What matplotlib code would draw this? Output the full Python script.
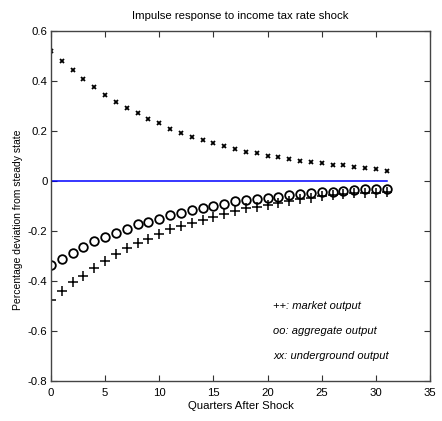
import matplotlib
matplotlib.use("Agg")
import matplotlib.pyplot as plt
import numpy as np

plt.rcParams['font.family'] = ['Liberation Sans', 'DejaVu Sans']

quarters = list(range(32))
underground = [0.521, 0.480, 0.444, 0.407, 0.375, 0.344, 0.317, 0.291, 0.271, 0.248,
               0.231, 0.209, 0.193, 0.176, 0.164, 0.153, 0.140, 0.129, 0.117, 0.113,
               0.101, 0.097, 0.087, 0.080, 0.076, 0.071, 0.063, 0.063, 0.057, 0.051,
               0.048, 0.041]
aggregate = [-0.336, -0.312, -0.287, -0.263, -0.241, -0.225, -0.209, -0.192, -0.173, -0.164,
             -0.152, -0.137, -0.127, -0.116, -0.109, -0.099, -0.092, -0.081, -0.076, -0.073,
             -0.069, -0.063, -0.056, -0.053, -0.047, -0.045, -0.043, -0.040, -0.036, -0.033,
             -0.033, -0.033]
market = [-0.476, -0.439, -0.403, -0.380, -0.347, -0.320, -0.292, -0.269, -0.249, -0.233,
          -0.213, -0.192, -0.180, -0.167, -0.156, -0.143, -0.132, -0.120, -0.109, -0.103,
          -0.096, -0.087, -0.079, -0.073, -0.067, -0.060, -0.056, -0.052, -0.049, -0.047,
          -0.047, -0.045]
zero_line = [0.0] * len(quarters)

labels = ["++: market output", "oo: aggregate output", "xx: underground output"]
label_y = [-0.5, -0.6, -0.7]

fig = plt.figure(figsize=(4.42, 4.21), dpi=100)
ax = fig.add_axes([0.1154, 0.095, 0.8576, 0.831])

ax.plot(quarters, underground, linestyle='none', marker='x', color='black',
        markersize=3.5, markeredgewidth=1.3)
ax.plot(quarters, aggregate, linestyle='none', marker='o', markerfacecolor='none',
        markeredgecolor='black', markersize=6.2, markeredgewidth=1.3)
ax.plot(quarters, market, linestyle='none', marker='+', color='black',
        markersize=7.5, markeredgewidth=1.1)
ax.plot(quarters, zero_line, color='#0000ff', linewidth=1.1)

for t, yv in zip(labels, label_y):
    ax.text(20.5, yv, t, fontsize=8, style='italic', va='center', ha='left')

ax.set_xlim(0, 35)
ax.set_ylim(-0.8, 0.6)
ax.set_xticks([0, 5, 10, 15, 20, 25, 30, 35])
yt = [-0.8, -0.6, -0.4, -0.2, 0, 0.2, 0.4, 0.6]
ax.set_yticks(yt)
ax.set_yticklabels(['-0.8', '-0.6', '-0.4', '-0.2', '0', '0.2', '0.4', '0.6'])
ax.tick_params(direction='in', top=True, right=True, labelsize=8.2, length=4,
               width=0.8, colors='#333333', labelcolor='black')
ax.tick_params(axis='x', pad=5)
ax.tick_params(axis='y', pad=2.5)
for s in ax.spines.values():
    s.set_color('#444444')
    s.set_linewidth(1.0)

ax.set_title("Impulse response to income tax rate shock", fontsize=8.2, pad=9)
ax.set_xlabel("Quarters After Shock", fontsize=8.2)
ax.set_ylabel("Percentage deviation from steady state", fontsize=7.5)
ax.xaxis.set_label_coords(0.5, -0.057)
ax.yaxis.set_label_coords(-0.074, 0.46)

fig.savefig("out.png", dpi=100)
